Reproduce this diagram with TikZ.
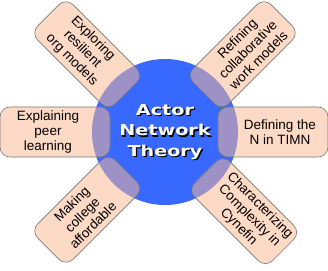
\documentclass[tikz,border=0pt]{standalone}
\usepackage{fontspec}
\setmainfont{Liberation Sans}
\newfontfamily\titlefont{DejaVu Sans}
\definecolor{discblue}{RGB}{55,104,255}
\definecolor{boxfill}{RGB}{252,184,144}
\definecolor{boxline}{RGB}{120,120,120}
\begin{document}
\begin{tikzpicture}[x=1pt,y=1pt,
  petal/.style={draw=boxline, line width=0.6pt, fill=boxfill, fill opacity=0.52,
    rounded corners=10pt, minimum width=110pt, minimum height=50pt, inner sep=0pt},
  petaltext/.style={font=\fontsize{13.5}{15}\selectfont, align=center, inner sep=0pt, text=black},
  titletext/.style={font=\titlefont\bfseries\fontsize{15}{20.5}\selectfont, align=center, inner sep=0pt, xscale=1.28},
]
\useasboundingbox (0,0) rectangle (328,270);
\node[circle, fill=discblue, minimum size=146pt, inner sep=0pt] (disc) at (165,138) {};

\node[petal] (p0) at ([shift={(0:108)}]disc.center) {};
\node[petal, rotate=45] (p45) at ([shift={(45:110)}]disc.center) {};
\node[petal, rotate=-45] (p135) at ([shift={(135:110)}]disc.center) {};
\node[petal] (p180) at ([shift={(180:110)}]disc.center) {};
\node[petal, rotate=45] (p225) at ([shift={(225:110)}]disc.center) {};
\node[petal, rotate=-45] (p315) at ([shift={(315:112)}]disc.center) {};

\node[petaltext] (t0) at ([shift={(0:115)}]disc.center) {Defining the\\N in TIMN};
\node[petaltext, rotate=45] (t45) at ([shift={(45:117)}]disc.center) {Refining\\collaborative\\work models};
\node[petaltext, rotate=-45] (t135) at ([shift={(135:117)}]disc.center) {Exploring\\resilient\\org models};
\node[petaltext] (t180) at ([shift={(180:117)}]disc.center) {Explaining\\peer\\learning};
\node[petaltext, rotate=45] (t225) at ([shift={(225:117)}]disc.center) {Making\\college\\affordable};
\node[petaltext, rotate=-45] (t315) at ([shift={(315:119)}]disc.center) {Characterizing\\Complexity in\\Cynefin};

\node[titletext, text=black] (titleshadow) at ([shift={(1.4,-1.4)}]disc.center) {Actor\\Network\\Theory};
\node[titletext, text=white] (title) at (disc.center) {Actor\\Network\\Theory};
\end{tikzpicture}
\end{document}
